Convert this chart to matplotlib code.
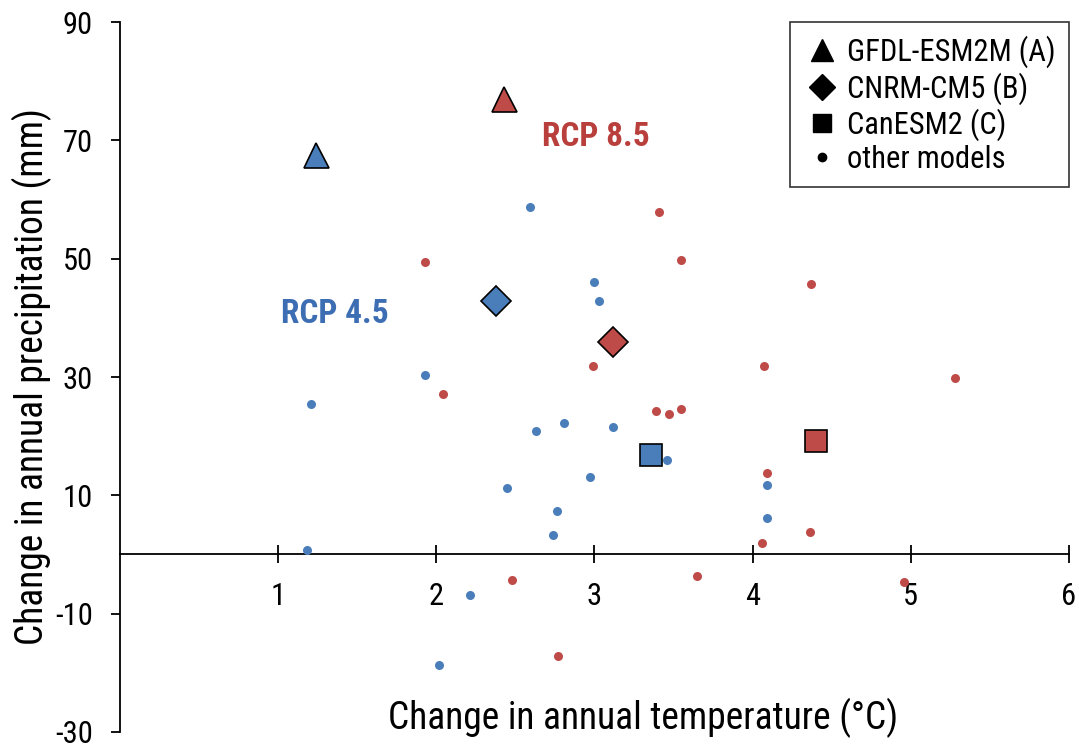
import matplotlib.pyplot as plt
import matplotlib.font_manager as fm
from matplotlib.lines import Line2D

names = {f.name for f in fm.fontManager.ttflist}
if 'Roboto Condensed' in names:
    FONT = ['Roboto Condensed', 'DejaVu Sans']
else:
    FONT = ['Liberation Sans Narrow', 'DejaVu Sans']
plt.rcParams['font.family'] = FONT
plt.rcParams['axes.unicode_minus'] = False

BLUE = '#4a7ebb'
RED = '#be4b48'

# other models, RCP 4.5
x45 = [1.18, 1.21, 1.93, 2.02, 2.21, 2.45, 2.59, 2.63, 2.76, 2.74, 2.81, 2.97,
       3.00, 3.03, 3.12, 3.46, 4.09, 4.09]
y45 = [0.8, 25.4, 30.3, -18.7, -6.8, 11.2, 58.7, 20.9, 7.35, 3.3, 22.2, 13.1,
       46.0, 42.8, 21.5, 16.0, 11.7, 6.2]
# other models, RCP 8.5
x85 = [1.93, 2.04, 2.48, 2.77, 2.99, 3.41, 3.39, 3.47, 3.55, 3.55, 3.65, 4.06,
       4.07, 4.09, 4.37, 4.36, 4.96, 5.28]
y85 = [49.4, 27.1, -4.3, -17.2, 31.9, 57.9, 24.2, 23.7, 24.6, 49.7, -3.6, 1.9,
       31.9, 13.8, 45.7, 3.8, -4.6, 29.9]

# named models: GFDL-ESM2M (A), CNRM-CM5 (B), CanESM2 (C)
sel_markers = ['^', 'D', 's']
sel_sizes = [18, 15, 16]
sel_x45 = [1.24, 2.38, 3.36]
sel_y45 = [67.5, 42.8, 16.8]
sel_x85 = [2.43, 3.12, 4.40]
sel_y85 = [77.0, 35.9, 19.2]
sel_labels = ['GFDL-ESM2M (A)', 'CNRM-CM5 (B)', 'CanESM2 (C)']

fig = plt.figure(figsize=(10.79, 7.47), dpi=100)
ax = fig.add_axes([0.1112, 0.0201, 0.8795, 0.9504])

for m, ms, xa, ya, xb, yb in zip(sel_markers, sel_sizes, sel_x45, sel_y45, sel_x85, sel_y85):
    ax.plot(xa, ya, m, ms=ms, mfc=BLUE, mec='black', mew=1.2, zorder=2)
    ax.plot(xb, yb, m, ms=ms, mfc=RED, mec='black', mew=1.2, zorder=2)

ax.plot(x45, y45, 'o', ms=6.5, color=BLUE, mew=0, zorder=3)
ax.plot(x85, y85, 'o', ms=6.5, color=RED, mew=0, zorder=3)

ax.text(1.36, 40.6, 'RCP 4.5', color='#3d6eb3', fontsize=24, fontweight='bold',
        ha='center', va='center')
ax.text(3.01, 70.6, 'RCP 8.5', color='#b93f3c', fontsize=24, fontweight='bold',
        ha='center', va='center')

ax.set_xlim(0, 6)
ax.set_ylim(-30, 90)
ax.set_xticks([1, 2, 3, 4, 5, 6])
ax.set_yticks([-30, -10, 10, 30, 50, 70, 90])
ax.spines['top'].set_visible(False)
ax.spines['right'].set_visible(False)
ax.spines['bottom'].set_position(('data', 0))
for s in ('left', 'bottom'):
    ax.spines[s].set_linewidth(1.3)
ax.tick_params(axis='x', direction='inout', length=13, width=1.3, labelsize=22, pad=13)
ax.tick_params(axis='y', direction='out', length=6.5, width=1.3, labelsize=22, pad=13)

ax.set_xlabel('Change in annual temperature (°C)', fontsize=27, va='center')
ax.xaxis.set_label_coords(0.551, 0.02)
ax.set_ylabel('Change in annual precipitation (mm)', fontsize=27, va='center')
ax.yaxis.set_label_coords(-0.093, 0.5)

handles = [Line2D([], [], ls='none', marker=m, ms=s, color='black')
           for m, s in zip(sel_markers, [16, 13, 13])]
handles.append(Line2D([], [], ls='none', marker='o', ms=6, color='black'))
leg = ax.legend(handles, sel_labels + ['other models'], loc='upper right',
                fontsize=22, frameon=True, fancybox=False, edgecolor='black',
                borderpad=0.45, handletextpad=0.2, handlelength=1.2,
                labelspacing=0.12, borderaxespad=0.0)
leg.get_frame().set_linewidth(1.2)

fig.savefig('out.png', dpi=100)
